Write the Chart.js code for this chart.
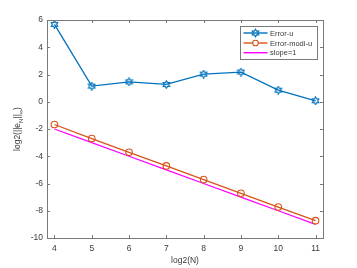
<!DOCTYPE html>
<html>
<head>
<meta charset="utf-8">
<script src="https://cdn.jsdelivr.net/npm/chart.js@4/dist/chart.umd.min.js"></script>
<style>
  html, body { margin: 0; padding: 0; background: #fff; }
  #wrap { width: 357px; height: 268px; }
</style>
</head>
<body>
<div id="wrap"><canvas id="errChart" width="357" height="268"></canvas></div>
<script>
  // data
  const logN = [4, 5, 6, 7, 8, 9, 10, 11];
  const errorU = [5.68, 1.15, 1.46, 1.27, 2.03, 2.18, 0.85, 0.07];
  const errorModiU = [-1.67, -2.70, -3.71, -4.71, -5.71, -6.72, -7.73, -8.73];
  const slopeOne = [-2, -3, -4, -5, -6, -7, -8, -9];
  const xTicks = [4, 5, 6, 7, 8, 9, 10, 11];
  const yTicks = [-10, -8, -6, -4, -2, 0, 2, 4, 6];
  const seriesNames = ["Error-u", "Error-modi-u", "slope=1"];

  const BLUE = "#0072BD", ORANGE = "#D95319", MAGENTA = "#FF00FF";
  const AXIS = "#3a3a3a", FRAME = "#7a7a7a", FONT = "'Liberation Sans', Arial, sans-serif";

  function hexagram(ctx, cx, cy, r) {
    const ri = r / Math.sqrt(3);
    ctx.beginPath();
    for (let i = 0; i < 12; i++) {
      const a = -Math.PI / 2 + i * Math.PI / 6;
      const rr = i % 2 === 0 ? r : ri;
      const px = cx + rr * Math.cos(a), py = cy + rr * Math.sin(a);
      if (i === 0) ctx.moveTo(px, py); else ctx.lineTo(px, py);
    }
    ctx.closePath();
  }

  const starImg = document.createElement("canvas");
  starImg.width = 9; starImg.height = 9;
  (function () {
    const c = starImg.getContext("2d");
    c.strokeStyle = BLUE; c.lineWidth = 1.1;
    hexagram(c, 4.5, 4.5, 3.8);
    c.stroke();
  })();

  const pts = (ys) => logN.map((x, i) => ({ x: x, y: ys[i] }));

  const frame = {
    id: "frame",
    afterDraw(chart) {
      const { ctx, chartArea: a, scales } = chart;
      ctx.save();
      ctx.strokeStyle = FRAME;
      ctx.lineWidth = 1;
      ctx.strokeRect(a.left + 0.5, a.top + 0.5, a.right - a.left, a.bottom - a.top);
      ctx.beginPath();
      xTicks.forEach(v => {
        const px = Math.round(scales.x.getPixelForValue(v)) + 0.5;
        ctx.moveTo(px, a.bottom); ctx.lineTo(px, a.bottom - 3);
        ctx.moveTo(px, a.top); ctx.lineTo(px, a.top + 3);
      });
      yTicks.forEach(v => {
        const py = Math.round(scales.y.getPixelForValue(v)) + 0.5;
        ctx.moveTo(a.left, py); ctx.lineTo(a.left + 3, py);
        ctx.moveTo(a.right, py); ctx.lineTo(a.right - 3, py);
      });
      ctx.stroke();

      // axis labels
      ctx.fillStyle = AXIS;
      ctx.font = "8.5px " + FONT;
      ctx.textAlign = "center"; ctx.textBaseline = "middle";
      ctx.fillText("log2(N)", (a.left + a.right) / 2, 261);

      ctx.translate(18, (a.top + a.bottom) / 2);
      ctx.rotate(-Math.PI / 2);
      const parts = [["log2(||e", 8.5, 0], ["N", 6, 3], ["||", 8.5, 0], ["\u221E", 6, 3], [")", 8.5, 0]];
      let total = 0;
      parts.forEach(p => { ctx.font = p[1] + "px " + FONT; total += ctx.measureText(p[0]).width; });
      let px = -total / 2;
      ctx.textAlign = "left";
      parts.forEach(p => {
        ctx.font = p[1] + "px " + FONT;
        ctx.fillText(p[0], px, p[2]);
        px += ctx.measureText(p[0]).width;
      });
      ctx.restore();

      // legend
      ctx.save();
      const lx = 240, ly = 26, lw = 77, lh = 33;
      ctx.fillStyle = "#fff";
      ctx.fillRect(lx, ly, lw, lh);
      ctx.strokeStyle = FRAME; ctx.lineWidth = 1;
      ctx.strokeRect(lx + 0.5, ly + 0.5, lw, lh);
      const rows = [33, 43, 52.7];
      const cols = [BLUE, ORANGE, MAGENTA];
      rows.forEach((ry, i) => {
        ctx.strokeStyle = cols[i]; ctx.lineWidth = 1.4;
        ctx.beginPath(); ctx.moveTo(243.5, ry); ctx.lineTo(267.5, ry); ctx.stroke();
        if (i === 0) { ctx.lineWidth = 1.1; hexagram(ctx, 255.5, ry, 3.8); ctx.stroke(); }
        if (i === 1) { ctx.lineWidth = 1.1; ctx.fillStyle = "#fff"; ctx.beginPath(); ctx.arc(255.5, ry, 2.8, 0, Math.PI * 2); ctx.fill(); ctx.stroke(); }
        ctx.fillStyle = AXIS;
        ctx.font = "7.5px " + FONT;
        ctx.textAlign = "left"; ctx.textBaseline = "middle";
        ctx.fillText(seriesNames[i], 270, ry + 0.5);
      });
      ctx.restore();
    }
  };

  new Chart(document.getElementById("errChart").getContext("2d"), {
    type: "scatter",
    data: {
      datasets: [
        { label: seriesNames[0], data: pts(errorU), showLine: true, borderColor: BLUE, borderWidth: 1.3,
          pointStyle: starImg, pointRadius: 4 },
        { label: seriesNames[1], data: pts(errorModiU), showLine: true, borderColor: ORANGE, borderWidth: 1.3,
          pointStyle: "circle", pointRadius: 3.3, pointBorderWidth: 1.1, pointBackgroundColor: "rgba(0,0,0,0)", pointBorderColor: ORANGE },
        { label: seriesNames[2], data: pts(slopeOne), showLine: true, borderColor: MAGENTA, borderWidth: 1.3,
          pointRadius: 0 }
      ]
    },
    options: {
      responsive: false,
      animation: false,
      layout: { padding: { left: 0, top: 20, right: 34, bottom: 0 } },
      plugins: { legend: { display: false }, tooltip: { enabled: false } },
      scales: {
        x: {
          type: "linear", min: 3.8, max: 11.2,
          grid: { display: false, drawTicks: false, tickLength: 0 }, border: { display: false },
          afterBuildTicks: (s) => { s.ticks = xTicks.map(v => ({ value: v })); },
          afterFit: (s) => { s.height = 30; },
          ticks: { color: AXIS, font: { family: FONT, size: 8.5 }, padding: 6, maxRotation: 0 }
        },
        y: {
          type: "linear", min: -10, max: 6,
          grid: { display: false, drawTicks: false, tickLength: 0 }, border: { display: false },
          afterBuildTicks: (s) => { s.ticks = yTicks.map(v => ({ value: v })); },
          afterFit: (s) => { s.width = 47; },
          ticks: { color: AXIS, font: { family: FONT, size: 8.5 }, padding: 4 }
        }
      }
    },
    plugins: [frame]
  });
</script>
</body>
</html>
